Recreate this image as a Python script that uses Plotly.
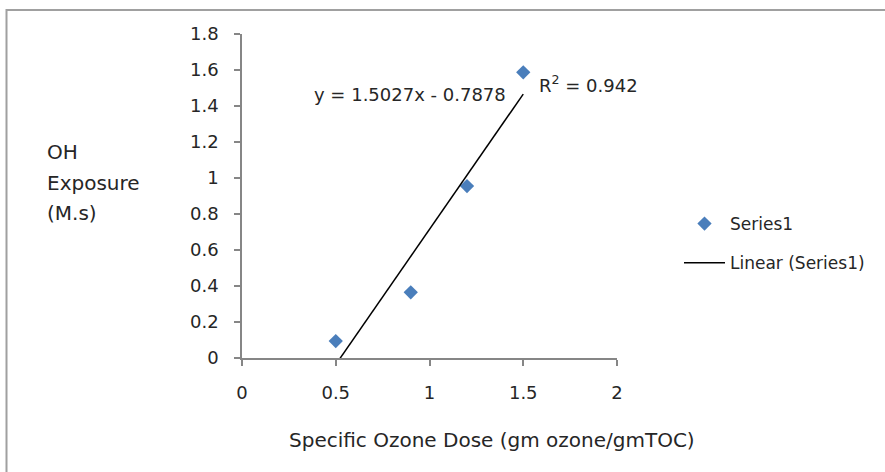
import numpy as np
import plotly.graph_objects as go

# Data
dose = [0.5, 0.9, 1.2, 1.5]
oh_exposure = [0.094, 0.365, 0.955, 1.587]
x_ticks = [0, 0.5, 1, 1.5, 2]
x_tick_labels = ["0", "0.5", "1", "1.5", "2"]
y_ticks = [0, 0.2, 0.4, 0.6, 0.8, 1, 1.2, 1.4, 1.6, 1.8]
y_tick_labels = ["0", "0.2", "0.4", "0.6", "0.8", "1", "1.2", "1.4", "1.6", "1.8"]
slope, intercept = 1.5027, -0.7878
trend_x = [min(dose), max(dose)]
trend_y = [slope * v + intercept for v in trend_x]

FONT = "DejaVu Sans"
FS = 18
TXT = "#262626"
AX = "#868686"

W, H = 885, 472
L, R, T, B = 242, 268, 34, 114
pw, ph = W - L - R, H - T - B

def px(x):
    return (x - L) / pw

def py(y):
    return (H - B - y) / ph

fig = go.Figure()
fig.add_trace(go.Scatter(
    x=dose, y=oh_exposure, mode="markers", name="Series1",
    marker=dict(symbol="diamond", size=11, color="#4A7EBB"),
    legendgroup="a"))
fig.add_trace(go.Scatter(
    x=trend_x, y=trend_y, mode="lines", name="Linear (Series1)",
    line=dict(color="black", width=1.5), legendgroup="b"))

fig.update_layout(
    width=W, height=H,
    margin=dict(l=L, r=R, t=T, b=B),
    paper_bgcolor="white", plot_bgcolor="white",
    font=dict(family=FONT, size=FS, color=TXT),
    showlegend=True,
    legend=dict(x=px(679), y=py(206), xanchor="left", yanchor="top",
                font=dict(size=FS - 1, family=FONT, color=TXT),
                itemwidth=41,
                tracegroupgap=14, bgcolor="rgba(0,0,0,0)"),
    xaxis=dict(range=[0, 2], tickvals=x_ticks, ticktext=x_tick_labels,
               showgrid=False, zeroline=False, showline=True, linecolor=AX,
               linewidth=1.5, ticks="outside", ticklen=6, tickcolor=AX,
               tickwidth=1.5, ticklabelstandoff=12,
               tickfont=dict(size=FS, family=FONT, color=TXT)),
    yaxis=dict(range=[0, 1.8], tickvals=y_ticks, ticktext=y_tick_labels,
               showgrid=False, zeroline=False, showline=True, linecolor=AX,
               linewidth=1.5, ticks="outside", ticklen=6, tickcolor=AX,
               tickwidth=1.5, ticklabelstandoff=12,
               tickfont=dict(size=FS, family=FONT, color=TXT)),
)

# Outer chart border
fig.add_shape(type="rect", xref="paper", yref="paper",
              x0=px(6.5), x1=px(905), y0=py(490), y1=py(10),
              line=dict(color="#A0A0A0", width=2), layer="below")

ann = []
ann.append(dict(text="Specific Ozone Dose (gm ozone/gmTOC)", x=px(492), y=py(440),
                xanchor="center", yanchor="middle", size=20))
for t, yy in [("OH", 152), ("Exposure", 183), ("(M.s)", 213)]:
    ann.append(dict(text=t, x=px(45), y=py(yy), xanchor="left", yanchor="middle",
                    size=20))
ann.append(dict(text="y = 1.5027x - 0.7878", x=px(410), y=py(95),
                xanchor="center", yanchor="middle", size=FS))
ann.append(dict(text="R<sup>2</sup> = 0.942", x=px(537), y=py(84),
                xanchor="left", yanchor="middle", size=FS))
for a in ann:
    s = a.pop("size")
    a.update(xref="paper", yref="paper", showarrow=False,
             font=dict(family=FONT, size=s, color=TXT))
fig.update_layout(annotations=ann)

fig.write_html("out.html")
